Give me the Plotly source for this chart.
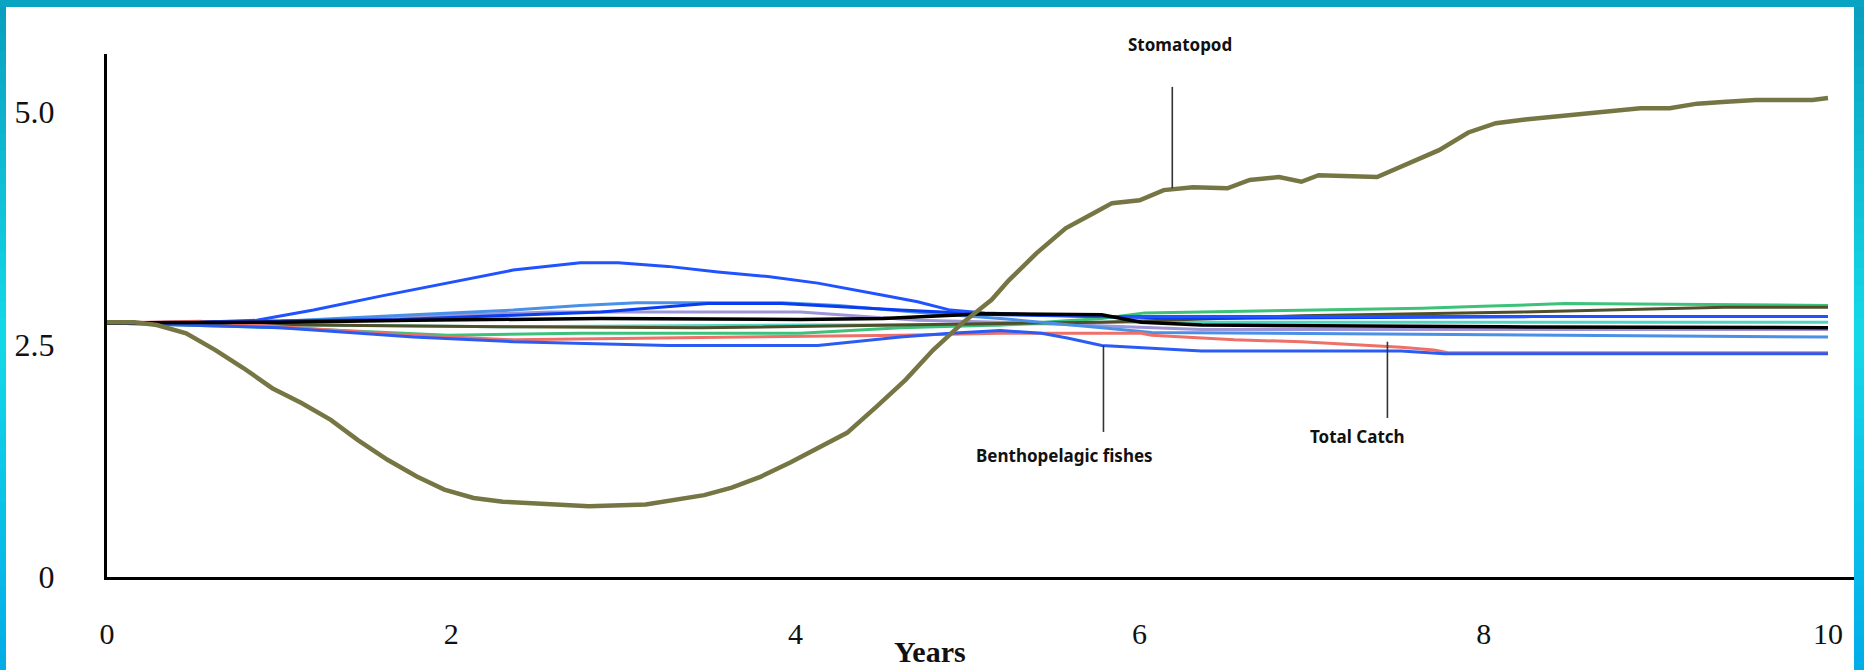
import plotly.graph_objects as go

# ---------------- data ----------------
x_tick_vals = [0, 2, 4, 6, 8, 10]
y_tick_vals = [0, 2.5, 5.0]
y_tick_text = ["0", "2.5", "5.0"]
x_title = "Years"

stomatopod_t = [0, 0.16, 0.29, 0.46, 0.63, 0.79, 0.96, 1.13, 1.30, 1.46, 1.63, 1.80, 1.96, 2.13, 2.30,
                2.63, 2.80, 3.13, 3.30, 3.47, 3.63, 3.80, 3.97, 4.14, 4.30, 4.47, 4.64, 4.80, 4.97, 5.14,
                5.24, 5.40, 5.57, 5.74, 5.84, 6.00, 6.14, 6.31, 6.51, 6.64, 6.81, 6.94, 7.04, 7.38, 7.57,
                7.74, 7.91, 8.07, 8.24, 8.41, 8.57, 8.74, 8.91, 9.08, 9.24, 9.41, 9.58, 9.91, 10.0]
stomatopod_v = [2.74, 2.74, 2.71, 2.62, 2.44, 2.25, 2.03, 1.87, 1.69, 1.47, 1.26, 1.08, 0.94, 0.85, 0.81,
                0.78, 0.76, 0.78, 0.83, 0.88, 0.96, 1.08, 1.23, 1.39, 1.55, 1.83, 2.12, 2.44, 2.73, 2.98,
                3.19, 3.48, 3.75, 3.92, 4.02, 4.05, 4.16, 4.19, 4.18, 4.27, 4.30, 4.25, 4.32, 4.30, 4.45,
                4.59, 4.78, 4.88, 4.92, 4.95, 4.98, 5.01, 5.04, 5.04, 5.09, 5.11, 5.13, 5.13, 5.15]

blue_hump_t = [0, 0.54, 0.87, 1.20, 1.59, 1.98, 2.36, 2.75, 2.97, 3.26, 3.55, 3.84, 4.13, 4.51, 4.71,
               4.90, 5.10, 5.39, 5.78, 6.28, 8.0, 10.0]
blue_hump_v = [2.73, 2.74, 2.76, 2.87, 3.02, 3.16, 3.30, 3.38, 3.38, 3.34, 3.28, 3.23, 3.16, 3.03, 2.96,
               2.87, 2.84, 2.82, 2.80, 2.80, 2.80, 2.80]

bentho_t = [0, 1.01, 1.78, 2.36, 3.26, 4.13, 4.61, 4.90, 5.19, 5.43, 5.58, 5.78, 6.07, 6.36, 7.52, 7.77, 10.0]
bentho_v = [2.73, 2.68, 2.58, 2.53, 2.49, 2.49, 2.58, 2.62, 2.65, 2.62, 2.57, 2.49, 2.46, 2.43, 2.43, 2.40, 2.40]

catch_t = [0, 0.54, 1.01, 1.78, 2.36, 3.26, 3.84, 4.61, 5.19, 6.01, 6.07, 6.55, 6.94, 7.33, 7.52, 7.71, 7.80, 10.0]
catch_v = [2.73, 2.75, 2.69, 2.60, 2.55, 2.57, 2.58, 2.60, 2.62, 2.62, 2.60, 2.55, 2.53, 2.49, 2.47, 2.44, 2.41, 2.41]

green_t = [0, 1.01, 1.98, 2.75, 4.03, 4.61, 5.19, 5.78, 6.03, 6.63, 7.64, 7.99, 8.47, 10.0]
green_v = [2.73, 2.68, 2.60, 2.62, 2.62, 2.68, 2.71, 2.78, 2.84, 2.86, 2.89, 2.91, 2.94, 2.92]

olive_t = [0, 1.12, 2.29, 3.45, 4.61, 5.78, 6.94, 8.22, 9.40, 10.0]
olive_v = [2.73, 2.71, 2.69, 2.68, 2.71, 2.74, 2.81, 2.85, 2.90, 2.90]

black_t = [0, 1.01, 1.78, 2.87, 4.03, 4.51, 5.10, 5.78, 6.01, 6.36, 8.10, 10.0]
black_v = [2.73, 2.74, 2.76, 2.78, 2.77, 2.78, 2.83, 2.82, 2.74, 2.71, 2.69, 2.68]

teal_t = [0, 1.01, 2.29, 4.03, 5.19, 5.68, 10.0]
teal_v = [2.73, 2.71, 2.69, 2.71, 2.71, 2.74, 2.74]

lavender_t = [0, 1.01, 1.78, 2.58, 4.03, 4.71, 5.19, 5.78, 6.36, 10.0]
lavender_v = [2.73, 2.75, 2.80, 2.85, 2.85, 2.76, 2.74, 2.70, 2.66, 2.66]

lightblue_t = [0, 1.01, 1.78, 2.36, 2.75, 3.08, 3.92, 4.25, 4.69, 5.19, 5.78, 6.07, 8.45, 10.0]
lightblue_v = [2.73, 2.75, 2.82, 2.87, 2.92, 2.95, 2.95, 2.92, 2.85, 2.78, 2.68, 2.63, 2.60, 2.58]

darkblue_t = [0, 1.70, 2.87, 3.49, 3.92, 4.61, 5.19, 5.78, 6.36, 8.28, 10.0]
darkblue_v = [2.73, 2.77, 2.85, 2.94, 2.94, 2.87, 2.82, 2.80, 2.78, 2.80, 2.80]

# ---------------- figure ----------------
W, H = 1864, 670
L, R, T, B = 107, 9, 54, 93
plot_w = W - L - R
plot_h = H - T - B
PX_PER_YEAR = 172.1
PX_PER_UNIT = 93.0

fig = go.Figure()

series = [
    ("Lavender", lavender_t, lavender_v, "#9d95d8", 3),
    ("Teal", teal_t, teal_v, "#4fd6c4", 3),
    ("Green", green_t, green_v, "#3cc27a", 3),
    ("Olive", olive_t, olive_v, "#4f4f2a", 3),
    ("Light blue", lightblue_t, lightblue_v, "#4a90e6", 3),
    ("Dark blue", darkblue_t, darkblue_v, "#0a3cf0", 3),
    ("Total Catch", catch_t, catch_v, "#ee7068", 3),
    ("Benthopelagic fishes", bentho_t, bentho_v, "#2a5cf5", 3),
    ("Blue", blue_hump_t, blue_hump_v, "#2052ff", 3),
    ("Black", black_t, black_v, "#000000", 3.5),
    ("Stomatopod", stomatopod_t, stomatopod_v, "#767644", 4.5),
]
for name, t, v, c, w in series:
    fig.add_trace(go.Scatter(x=t, y=v, mode="lines", name=name,
                             line=dict(color=c, width=w), showlegend=False,
                             hoverinfo="skip"))


def px2x(p):
    return (p - L) / plot_w


def py2y(p):
    return (H - B - p) / plot_h


# pointer lines (data coords) + labels (paper coords, pixel placement)
pointers = [
    (6.19, 4.18, 5.27),
    (5.79, 2.49, 1.56),
    (7.44, 2.53, 1.71),
]
for px, py0, py1 in pointers:
    fig.add_shape(type="line", xref="x", yref="y", x0=px, x1=px, y0=py0, y1=py1,
                  line=dict(color="#333333", width=1.6))

label_pos = [("Stomatopod", 1180, 45), ("Benthopelagic fishes", 1064, 455), ("Total Catch", 1357, 436)]
for text, lx, ly in label_pos:
    fig.add_annotation(x=px2x(lx), y=py2y(ly), xref="paper", yref="paper",
                       text="<b>" + text + "</b>", showarrow=False,
                       xanchor="center", yanchor="middle",
                       font=dict(family="Noto Sans", size=17, color="#111111"))

fig.add_annotation(x=px2x(930), y=py2y(670), xref="paper", yref="paper",
                   text="<b>" + x_title + "</b>", showarrow=False,
                   xanchor="center", yanchor="bottom",
                   font=dict(family="Liberation Serif", size=30, color="#111111"))


# cyan gradient frame
def mix(c1, c2, f):
    a = [int(c1[i:i + 2], 16) for i in (1, 3, 5)]
    b = [int(c2[i:i + 2], 16) for i in (1, 3, 5)]
    return "#%02x%02x%02x" % tuple(int(round(a[k] + (b[k] - a[k]) * f)) for k in range(3))


stops = ["#0a9fc0", "#14d9e8", "#02ade8"]
N = 40
for side in [(0, 6), (1854, 1864)]:
    for i in range(N):
        f = i / (N - 1)
        col = mix(stops[0], stops[1], f * 2) if f < 0.5 else mix(stops[1], stops[2], (f - 0.5) * 2)
        fig.add_shape(type="rect", xref="paper", yref="paper",
                      x0=px2x(side[0]), x1=px2x(side[1]),
                      y0=py2y(i * H / N), y1=py2y((i + 1) * H / N + 1),
                      fillcolor=col, line=dict(width=0), layer="above")
fig.add_shape(type="rect", xref="paper", yref="paper", x0=px2x(0), x1=px2x(W),
              y0=py2y(0), y1=py2y(7), fillcolor="#0aa4c3", line=dict(width=0), layer="above")

fig.update_layout(
    width=W, height=H,
    margin=dict(l=L, r=R, t=T, b=B, pad=0),
    paper_bgcolor="white", plot_bgcolor="white",
    xaxis=dict(range=[0, plot_w / PX_PER_YEAR], tickvals=x_tick_vals, showgrid=False, zeroline=False,
               showline=True, linecolor="black", linewidth=3, ticks="",
               tickfont=dict(family="Liberation Serif", size=30, color="#111111"),
               ticklabelstandoff=28),
    yaxis=dict(range=[0, plot_h / PX_PER_UNIT], tickvals=y_tick_vals, ticktext=y_tick_text,
               showgrid=False, zeroline=False, showline=True, linecolor="black", linewidth=3,
               ticks="", tickfont=dict(family="Liberation Serif", size=32, color="#111111"),
               ticklabelstandoff=43),
)

fig.write_html("out.html", config={"displayModeBar": False},
               post_script="document.body.style.margin='0';")
